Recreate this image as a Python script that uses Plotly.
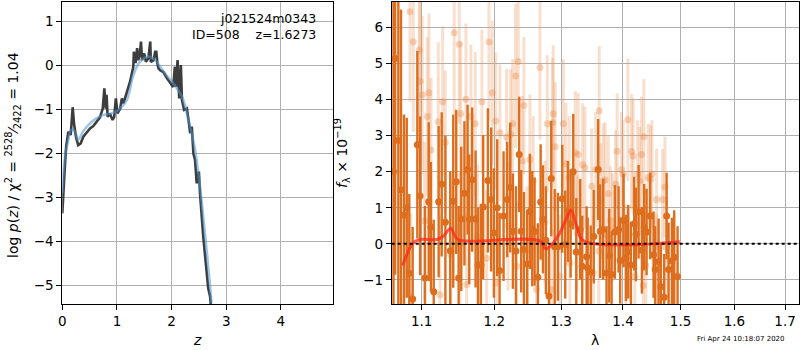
import plotly.graph_objects as go
import math

# ---------------- Left panel: p(z) ----------------
z_fit = [0.0, 0.05, 0.11, 0.16, 0.23, 0.29, 0.38, 0.48, 0.63, 0.75, 0.90, 1.03, 1.18, 1.30,
         1.42, 1.58, 1.70, 1.85, 2.03, 2.19, 2.31, 2.43, 2.52, 2.61, 2.70, 2.73]
logp_fit = [-2.9, -2.07, -1.69, -1.47, -1.50, -1.69, -1.50, -1.35, -1.20, -1.13, -1.09, -1.01,
            -0.79, -0.22, 0.08, 0.20, 0.12, -0.14, -0.41, -0.71, -1.24, -1.92, -2.75, -3.81,
            -4.95, -5.40]

z_raw = [0.0, 0.02, 0.04, 0.07, 0.11, 0.154, 0.19, 0.214, 0.25, 0.29, 0.337, 0.385, 0.447,
         0.507, 0.568, 0.63, 0.69, 0.74, 0.77, 0.795, 0.81, 0.83, 0.87, 0.92, 0.95, 0.98,
         1.01, 1.06, 1.09, 1.12, 1.18, 1.24, 1.30, 1.31, 1.34, 1.37, 1.39, 1.42, 1.44, 1.46,
         1.50, 1.53, 1.575, 1.61, 1.62, 1.67, 1.70, 1.72, 1.74, 1.76, 1.79, 1.85, 1.91, 1.97,
         2.03, 2.06, 2.08, 2.11, 2.14, 2.17, 2.19, 2.23, 2.28, 2.31, 2.34, 2.37, 2.40, 2.43,
         2.46, 2.50, 2.52, 2.58, 2.64, 2.67, 2.705, 2.72]
logp_raw = [-3.36, -2.75, -2.45, -1.85, -1.51, -1.58, -0.95, -1.32, -1.62, -1.81, -1.77, -1.62,
            -1.51, -1.43, -1.38, -1.28, -1.18, -0.98, -0.52, -0.98, -0.67, -1.17, -1.09, -1.24,
            -1.17, -0.75, -1.09, -0.98, -0.75, -0.86, -0.64, -0.37, -0.03, 0.31, 0.05, 0.39,
            0.12, 0.27, 0.54, 0.12, 0.27, 0.08, 0.16, 0.54, 0.08, 0.12, 0.31, 0.31, 0.05, -0.07,
            -0.11, -0.15, -0.28, -0.40, -0.49, -0.03, -0.49, 0.12, -0.75, 0.01, -0.79, -1.01,
            -0.98, -1.24, -1.54, -1.39, -2.00, -2.15, -2.68, -2.41, -2.90, -3.89, -4.80, -5.06,
            -5.25, -5.46]

# ---------------- Right panel: spectrum ----------------
lam_dark = [1.0635, 1.0655, 1.0697, 1.0731, 1.0770, 1.0805, 1.0838, 1.0882, 1.0943, 1.0979,
            1.1043, 1.1093, 1.1123, 1.1160, 1.1226, 1.1267, 1.1317, 1.1383, 1.1424, 1.1465,
            1.1498, 1.1534, 1.1578, 1.1622, 1.1645, 1.1686, 1.1734, 1.1770, 1.1809, 1.1841,
            1.1908, 1.1955, 1.1994, 1.2042, 1.2076, 1.2134, 1.2187, 1.2231, 1.2270, 1.2315,
            1.2363, 1.2393, 1.2433, 1.2482, 1.2523, 1.2558, 1.2593, 1.2643, 1.2685, 1.2720,
            1.2765, 1.2812, 1.2847, 1.2900, 1.2950, 1.3017, 1.3064, 1.3106, 1.3149, 1.3190,
            1.3238, 1.3301, 1.3333, 1.3403, 1.3420, 1.3469, 1.3518, 1.3590, 1.3623, 1.3672,
            1.3727, 1.3771, 1.3810, 1.3865, 1.3926, 1.3953, 1.4010, 1.4049, 1.4088, 1.4133,
            1.4189, 1.4218, 1.4264, 1.4321, 1.4360, 1.4401, 1.4463, 1.4522, 1.4550, 1.4610,
            1.4650, 1.4708, 1.4751, 1.4786, 1.4845, 1.4886, 1.4946]
flux_dark = [2.0, 5.14, 2.87, 1.5, 0.79, 1.0, -0.82, -1.53, 2.75, 1.33,
             -0.95, 1.17, 0.47, -1.33, 1.17, 1.65, 0.6, -0.19, 1.18, 1.72,
             -0.95, 0.69, 1.40, 2.06, 0.68, 1.78, 0.69, -0.59, -0.59, 1.02,
             1.76, 1.23, 0.30, 1.00, -0.74, 0.77, 1.23, 1.56, 0.35, -0.20,
             2.48, 0.35, -0.16, -0.56, 0.90, 0.42, 0.34, -0.93, 1.16, 0.68,
             0.10, -1.45, 1.81, -0.08, -0.08, 1.25, -0.02, 0.90, 0.56, 2.00,
             -0.23, 0.40, -0.62, -0.36, -0.67, -0.79, 0.20, 2.06, 0.35, 0.40,
             -0.81, -0.33, -0.85, 0.33, 0.40, -0.46, 0.65, -0.39, -0.22, -0.59,
             0.56, 0.26, 0.89, -0.18, 0.46, 0.33, 0.77, -0.30, -0.71, -0.50,
             -1.19, -1.48, 0.77, -0.71, -0.48, -0.37, -0.91]
err_dark = [9.0, 6.0, 6.0, 5.0, 2.8, 2.5, 2.2, 2.0, 2.6, 2.2,
            2.0, 2.2, 1.8, 2.0, 2.1, 2.0, 2.4, 2.2, 2.4, 2.0,
            2.0, 2.0, 2.0, 1.8, 1.8, 2.0, 1.9, 1.6, 1.7, 2.0,
            2.0, 2.0, 1.8, 1.9, 1.6, 1.8, 1.6, 1.8, 1.6, 1.8,
            1.6, 1.7, 1.6, 1.5, 1.6, 1.6, 1.5, 1.5, 1.6, 1.5,
            1.5, 1.4, 1.6, 1.6, 1.5, 1.5, 1.5, 1.4, 1.5, 1.6,
            1.5, 1.4, 1.4, 1.4, 1.4, 1.3, 1.3, 1.4, 1.3, 1.4,
            1.3, 1.3, 1.2, 1.3, 1.2, 1.2, 1.3, 1.2, 1.3, 1.2,
            1.3, 1.3, 1.3, 1.2, 1.2, 1.2, 1.2, 1.2, 1.2, 1.2,
            1.2, 1.2, 1.2, 1.3, 1.2, 1.3, 1.4]

lam_light = [1.0847, 1.0890, 1.0968, 1.0979, 1.1008, 1.1074, 1.1096, 1.1123, 1.1221, 1.1280,
             1.1315, 1.1437, 1.1506, 1.1526, 1.1599, 1.1669, 1.1729, 1.1823, 1.1923, 1.1970,
             1.2019, 1.2081, 1.2179, 1.2237, 1.2266, 1.2310, 1.2349, 1.2408, 1.2433, 1.2523,
             1.2573, 1.2674, 1.2786, 1.2868, 1.2877, 1.2908, 1.3033, 1.3075, 1.3127, 1.3222,
             1.3269, 1.3339, 1.3376, 1.3485, 1.3550, 1.3607, 1.3630, 1.3672, 1.3705, 1.3754,
             1.3793, 1.3876, 1.3902, 1.3975, 1.4002, 1.4082, 1.4144, 1.4171, 1.4247, 1.4286,
             1.4315, 1.4355, 1.4429, 1.4470, 1.4493, 1.4575, 1.4680, 1.4721,
             1.0860, 1.1040, 1.1243, 1.1390, 1.1516, 1.1609, 1.1760, 1.1890, 1.2033, 1.2200,
             1.2325, 1.2480, 1.2623, 1.2750, 1.2853, 1.2980, 1.3138, 1.3250, 1.3512, 1.3600,
             1.3826, 1.4050, 1.4200, 1.4343, 1.4389, 1.4575, 1.4750]
flux_light = [6.44, 5.61, 5.37, 4.51, 4.13, 3.53, 4.19, 2.60, 3.39, 3.94,
              2.81, 5.86, 5.54, 3.61, 4.01, 3.53, 3.33, 3.94, 5.60, 4.19,
              3.41, 3.08, 2.96, 3.04, 3.33, 4.66, 5.06, 2.30, 3.84, 2.34,
              1.74, 4.89, 3.33, 3.36, 3.61, 2.69, 3.33, 2.22, 1.85, 2.53,
              2.48, 2.20, 2.11, 1.60, 2.06, 3.69, 1.19, 1.74, 1.77, 1.39,
              0.65, 1.65, 2.57, 2.06, 1.93, 3.44, 2.56, 2.44, 1.93, 1.74,
              2.48, 2.97, 1.83, 1.79, 1.93, 1.23, 1.23, 1.58,
              -1.45, 0.63, -1.41, -0.30, -0.02, -1.13, 0.20, -0.40, -1.08, 0.50,
              -0.62, -0.20, -1.27, 0.60, -1.27, -0.90, -0.53, 0.30, -0.81, -0.20,
              0.46, -0.40, -0.90, -1.16, -0.60, -0.57, -0.10]
err_light = [2.5, 2.5, 2.3, 2.3, 2.2, 2.2, 2.2, 2.0, 2.2, 2.1,
             2.0, 2.3, 2.2, 2.0, 2.1, 2.0, 2.0, 2.0, 2.2, 2.0,
             1.9, 1.9, 1.9, 1.8, 1.8, 2.0, 2.0, 1.8, 1.9, 1.8,
             1.8, 2.0, 1.9, 1.8, 1.9, 1.8, 1.8, 1.7, 1.7, 1.7,
             1.7, 1.7, 1.7, 1.6, 1.6, 1.8, 1.6, 1.6, 1.6, 1.6,
             1.5, 1.5, 1.6, 1.6, 1.5, 1.7, 1.6, 1.6, 1.5, 1.5,
             1.6, 1.6, 1.5, 1.5, 1.5, 1.4, 1.4, 1.4,
             2.3, 2.2, 2.2, 2.1, 2.0, 2.0, 2.0, 1.9, 1.9, 1.8,
             1.8, 1.8, 1.7, 1.7, 1.7, 1.7, 1.6, 1.6, 1.6, 1.6,
             1.5, 1.5, 1.5, 1.5, 1.5, 1.4, 1.4]

lam_model = [1.0752, 1.0890, 1.0979, 1.1198, 1.1288, 1.1356, 1.1393, 1.1448, 1.1503, 1.2675,
             1.2761, 1.2853, 1.2982, 1.3087, 1.3155, 1.3245, 1.3350, 1.4986]
flux_model = [-0.60, 0.03, 0.12, 0.12, 0.21, 0.38, 0.43, 0.21, 0.10, 0.08,
              -0.14, -0.02, 0.31, 0.72, 0.93, 0.49, 0.09, 0.06]

x_ticks_left = [0, 1, 2, 3, 4]
y_ticks_left = [-5, -4, -3, -2, -1, 0, 1]
x_ticks_right = [1.1, 1.2, 1.3, 1.4, 1.5, 1.6, 1.7]
y_ticks_right = [-1, 0, 1, 2, 3, 4, 5, 6]

W, H = 800, 350
FONT = "DejaVu Sans"
ORANGE = "rgb(221,110,30)"
ORANGE_LIGHT_BAR = "rgba(236,150,90,0.30)"
ORANGE_LIGHT_MK = "rgba(232,135,65,0.35)"


def px(xp):
    return xp / W


def py(yp):
    return 1 - yp / H


fig = go.Figure()

# left panel
fig.add_trace(go.Scatter(x=z_raw, y=logp_raw, mode="lines",
                         line=dict(color="rgba(40,40,40,0.9)", width=2.6),
                         xaxis="x", yaxis="y", showlegend=False, hoverinfo="skip"))
fig.add_trace(go.Scatter(x=z_fit, y=logp_fit, mode="lines", line_shape="spline",
                         line=dict(color="rgba(80,150,210,0.55)", width=2.6),
                         xaxis="x", yaxis="y", showlegend=False, hoverinfo="skip"))

# right panel
fig.add_trace(go.Scatter(x=lam_light, y=flux_light, mode="markers",
                         marker=dict(color=ORANGE_LIGHT_MK, size=7),
                         error_y=dict(type="data", array=err_light, width=0, thickness=3,
                                      color=ORANGE_LIGHT_BAR),
                         xaxis="x2", yaxis="y2", showlegend=False, hoverinfo="skip"))
fig.add_trace(go.Scatter(x=lam_dark, y=flux_dark, mode="markers",
                         marker=dict(color=ORANGE, size=7),
                         error_y=dict(type="data", array=err_dark, width=0, thickness=2.4,
                                      color=ORANGE),
                         xaxis="x2", yaxis="y2", showlegend=False, hoverinfo="skip"))
fig.add_trace(go.Scatter(x=lam_model, y=flux_model, mode="lines", line_shape="spline",
                         line=dict(color="rgba(255,40,25,0.75)", width=3),
                         xaxis="x2", yaxis="y2", showlegend=False, hoverinfo="skip"))

ydom = [py(304), py(2)]
common = dict(showgrid=True, gridcolor="#b0b0b0", gridwidth=1, zeroline=False,
              showline=True, linecolor="black", linewidth=1, mirror=True,
              ticks="outside", ticklen=5, tickcolor="black", automargin=False,
              tickfont=dict(family=FONT, size=13.5, color="black"))

fig.update_layout(
    width=W, height=H, margin=dict(l=0, r=0, t=0, b=0, autoexpand=False),
    paper_bgcolor="white", plot_bgcolor="white",
    font=dict(family=FONT, color="black"),
    xaxis=dict(domain=[px(62.3), px(333.3)], range=[0, 4.96], tickvals=x_ticks_left,
               anchor="y", **common),
    yaxis=dict(domain=ydom, range=[-5.42, 1.44], tickvals=y_ticks_left,
               ticktext=[("\u2212" + str(-v)) if v < 0 else str(v) for v in y_ticks_left],
               anchor="x", **common),
    xaxis2=dict(domain=[px(391.7), px(799.0)], type="log",
                range=[math.log10(1.0612), math.log10(1.7286)],
                tickvals=x_ticks_right, ticktext=[f"{v:.1f}" for v in x_ticks_right],
                anchor="y2", **common),
    yaxis2=dict(domain=ydom, range=[-1.67, 6.71], tickvals=y_ticks_right,
                ticktext=[("\u2212" + str(-v)) if v < 0 else str(v) for v in y_ticks_right],
                anchor="x2", **common),
)

# zero line (dotted)
fig.add_shape(type="line", xref="x2 domain", yref="y2", x0=0, x1=1, y0=0, y1=0,
              line=dict(color="black", width=2, dash="dot"), layer="above")

ann = [
    dict(x=px(318), y=py(19), text="j021524m0343", xanchor="right", yanchor="middle",
         font=dict(size=12.5)),
    dict(x=px(318), y=py(35), text="ID=508\u00a0\u00a0\u00a0\u00a0z=1.6273", xanchor="right",
         yanchor="middle", font=dict(size=12.5)),
    dict(x=px(197), y=py(340), text="<i>z</i>", xanchor="center", yanchor="middle",
         font=dict(size=14)),
    dict(x=px(595), y=py(340), text="λ", xanchor="center", yanchor="middle",
         font=dict(size=14)),
    dict(x=px(13), y=py(155),
         text="log <i>p</i>(<i>z</i>) / χ<sup>2</sup> = <sup>2528</sup>⁄<sub>2422</sub> = 1.04",
         textangle=-90, xanchor="center", yanchor="middle", font=dict(size=14)),
    dict(x=px(342), y=py(153), text="<i>f</i><sub>λ</sub> × 10<sup>−19</sup>",
         textangle=-90, xanchor="center", yanchor="middle", font=dict(size=14)),
    dict(x=px(787), y=py(339), text="Fri Apr 24 10:18:07 2020", xanchor="right",
         yanchor="middle", font=dict(size=7)),
]
for a in ann:
    a.setdefault("xref", "paper")
    a.setdefault("yref", "paper")
    a["showarrow"] = False
    fig.add_annotation(**a)

fig.write_html("out.html", config={"displayModeBar": False},
               post_script="document.body.style.margin='0px';"
                           "document.body.style.overflow='hidden';")
